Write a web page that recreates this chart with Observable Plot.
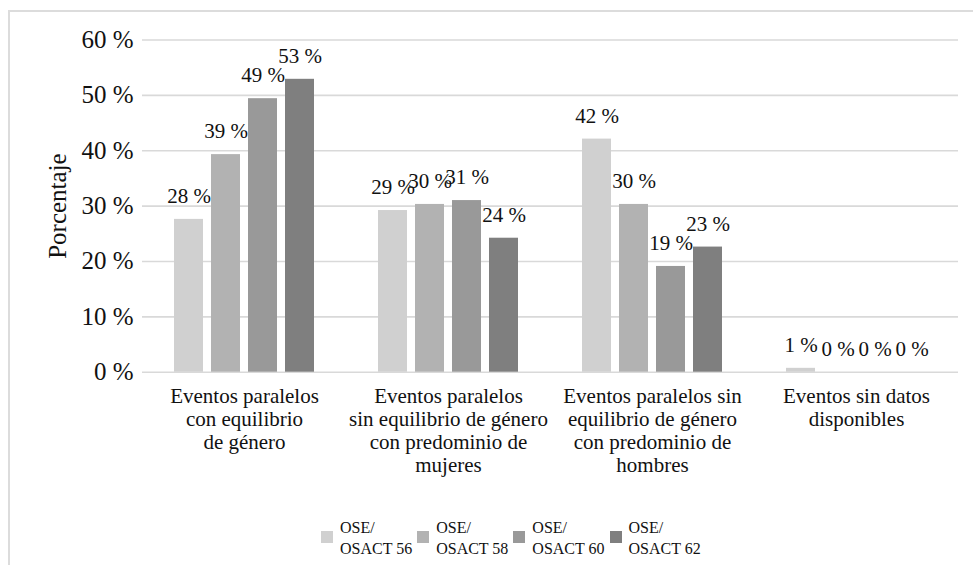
<!DOCTYPE html>
<html>
<head>
<meta charset="utf-8">
<script src="https://cdn.jsdelivr.net/npm/d3@7"></script>
<script src="https://cdn.jsdelivr.net/npm/@observablehq/plot@0.6"></script>
<style>
  html, body { margin: 0; padding: 0; background: #fff; }
  body { width: 973px; height: 565px; position: relative; overflow: hidden;
         font-family: "Liberation Serif", "Times New Roman", serif; color: #111; }
  #frame { position: absolute; left: 8px; top: 10px; right: 0; bottom: 0;
           border-left: 2px solid #dcdcdc; border-top: 2px solid #dcdcdc; z-index: 0; }
  #chart { position: absolute; left: 0; top: 0; z-index: 1; }
  #legend { position: absolute; left: 321px; top: 517px; display: flex; gap: 5px; z-index: 1; }
  .item { display: flex; align-items: center; gap: 7px; }
  .sw { width: 12px; height: 12px; margin-top: -3px; }
  .lab { font-size: 16px; line-height: 21px; }
</style>
</head>
<body>
<div id="frame"></div>
<div id="chart"></div>
<div id="legend"></div>
<script>
const categories = [
  "Eventos paralelos con equilibrio de género",
  "Eventos paralelos sin equilibrio de género con predominio de mujeres",
  "Eventos paralelos sin equilibrio de género con predominio de hombres",
  "Eventos sin datos disponibles"
];
const categoryLabels = [
  "Eventos paralelos\ncon equilibrio\nde género",
  "Eventos paralelos\nsin equilibrio de género\ncon predominio de\nmujeres",
  "Eventos paralelos sin\nequilibrio de género\ncon predominio de\nhombres",
  "Eventos sin datos\ndisponibles"
];
const series = ["OSE/OSACT 56", "OSE/OSACT 58", "OSE/OSACT 60", "OSE/OSACT 62"];
const seriesLabels = ["OSE/\nOSACT 56", "OSE/\nOSACT 58", "OSE/\nOSACT 60", "OSE/\nOSACT 62"];
const values56 = [27.6, 29.2, 42.1, 0.7];
const values58 = [39.3, 30.3, 30.3, 0];
const values60 = [49.4, 31.0, 19.1, 0];
const values62 = [52.9, 24.2, 22.6, 0];
const yTicks = [0, 10, 20, 30, 40, 50, 60];
const colors = ["#d0d0d0", "#b2b2b2", "#999999", "#7f7f7f"];

const seriesValues = [values56, values58, values60, values62];
const data = categories.flatMap((c, i) =>
  series.map((s, j) => ({category: c, series: s, value: seriesValues[j][i]})));
const labelOf = Object.fromEntries(categories.map((c, i) => [c, categoryLabels[i]]));

const serif = "'Liberation Serif', 'Times New Roman', serif";

const chart = Plot.plot({
  width: 973,
  height: 510,
  marginLeft: 142,
  marginRight: 15,
  marginTop: 39.5,
  marginBottom: 138.3,
  style: {fontFamily: serif, color: "#111", background: "transparent"},
  fx: {domain: categories, padding: 0, label: null},
  x: {domain: series, paddingInner: 0.227, paddingOuter: 0.834, axis: null},
  y: {domain: [0, 60], label: null},
  color: {domain: series, range: colors},
  marks: [
    Plot.gridY(yTicks, {stroke: "#d9d9d9", strokeWidth: 1.6, strokeOpacity: 1}),
    Plot.barY(data, {fx: "category", x: "series", y: "value", fill: "series"}),
    Plot.text(data, {fx: "category", x: "series", y: "value",
      text: d => Math.round(d.value) + " %", dy: -23, fontSize: 21, fill: "#111", fontFamily: serif}),
    Plot.axisY(yTicks, {tickFormat: d => d + " %", tickSize: 0, tickPadding: 9, fontSize: 25, fontFamily: serif,
      label: "Porcentaje", labelAnchor: "center", labelOffset: 94, labelArrow: "none"}),
    Plot.axisFx({anchor: "bottom", tickSize: 0, tickPadding: 14, fontSize: 21, lineHeight: 1.1, fontFamily: serif,
      tickFormat: d => labelOf[d], label: null})
  ]
});
document.getElementById("chart").appendChild(chart);

const legend = document.getElementById("legend");
series.forEach((s, i) => {
  const item = document.createElement("div");
  item.className = "item";
  const sw = document.createElement("div");
  sw.className = "sw";
  sw.style.background = colors[i];
  const lab = document.createElement("div");
  lab.className = "lab";
  lab.innerHTML = seriesLabels[i].split("\n").join("<br>");
  item.appendChild(sw);
  item.appendChild(lab);
  legend.appendChild(item);
});
</script>
</body>
</html>
